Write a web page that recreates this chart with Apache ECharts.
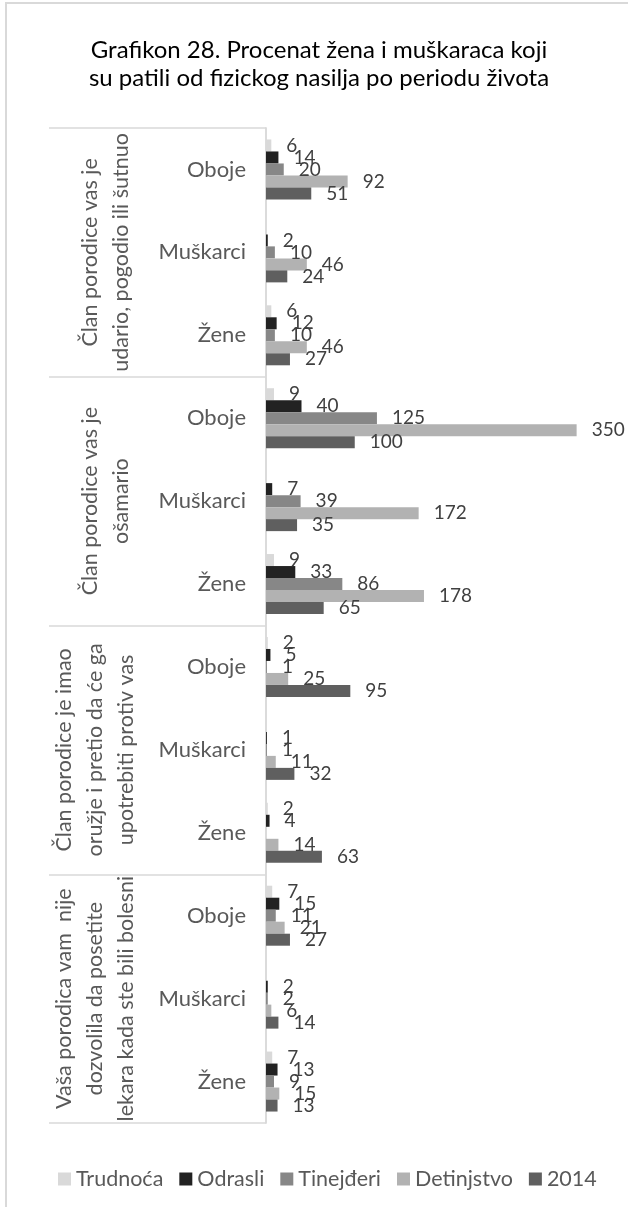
<!DOCTYPE html>
<html>
<head>
<meta charset="utf-8">
<script src="https://cdn.jsdelivr.net/npm/echarts@6/dist/echarts.min.js"></script>
<style>
  html, body { margin: 0; padding: 0; background: #fff; }
  #chart { width: 628px; height: 1207px; }
</style>
</head>
<body>
<div id="chart"></div>
<script>
// Question groups (outer level of the category axis)
const groups = [
  'Član porodice vas je\nudario, pogodio ili šutnuo',
  'Član porodice vas je\nošamario',
  'Član porodice je imao\noružje i pretio da će ga\nupotrebiti protiv vas',
  'Vaša porodica vam  nije\ndozvolila da posetite\nlekara kada ste bili bolesni'
];
// Respondent subgroups (inner level)
const subgroups = ['Oboje', 'Muškarci', 'Žene'];
// Period of life
const seriesNames = ['Trudnoća', 'Odrasli', 'Tinejđeri', 'Detinjstvo', '2014'];

// Values per category, in order: group 1 (Oboje, Muškarci, Žene), group 2, ...
const trudnoca   = [6, null, 6,    9, null, 9,     2, null, 2,    7, null, 7];
const odrasli    = [14, 2, 12,     40, 7, 33,      5, 1, 4,       15, 2, 13];
const tinejderi  = [20, 10, 10,    125, 39, 86,    1, 1, null,    11, 2, 9];
const detinjstvo = [92, 46, 46,    350, 172, 178,  25, 11, 14,    21, 6, 15];
const god2014    = [51, 24, 27,    100, 35, 65,    95, 32, 63,    27, 14, 13];

const seriesValues = [trudnoca, odrasli, tinejderi, detinjstvo, god2014];
const seriesColors = ['#D9D9D9', '#222222', '#878787', '#B2B2B2', '#5F5F5F'];

const FONT = 'Lato';
const frameColor = '#D9D9D9';

// inner-level categories, one per (group, subgroup) pair
const categories = [];
groups.forEach((g, gi) => subgroups.forEach(s => categories.push(gi + '|' + s)));

// outer-level labels; two-line labels sit a little further left
const groupAxisData = groups.map(g => {
  const lines = g.split('\n').length;
  return { value: g, textStyle: { padding: lines === 2 ? [0, 0, 5, 0] : [0, 0, 0, 0] } };
});

const chart = echarts.init(document.getElementById('chart'), null, { renderer: 'canvas' });

chart.setOption({
  backgroundColor: '#fff',
  animation: false,
  textStyle: { fontFamily: FONT },
  title: {
    text: 'Grafikon 28. Procenat žena i muškaraca koji\nsu patili od fizickog nasilja po periodu života',
    left: 314,
    top: 31,
    textAlign: 'center',
    textStyle: { fontFamily: FONT, fontSize: 24, fontWeight: 'normal', color: '#000', lineHeight: 28 }
  },
  graphic: [{
    type: 'rect',
    silent: true,
    shape: { x: 6, y: 3, width: 700, height: 1300 },
    style: { fill: 'none', stroke: frameColor, lineWidth: 2 }
  }],
  legend: {
    left: 53,
    top: 1163,
    itemWidth: 13,
    itemHeight: 13,
    itemGap: 16,
    icon: 'rect',
    textStyle: { fontFamily: FONT, fontSize: 21.5, color: '#595959' },
    data: seriesNames
  },
  grid: {
    left: 266,
    right: 7,
    top: 128,
    bottom: 84,
    containLabel: false,
    outerBoundsMode: 'none'
  },
  xAxis: {
    type: 'value',
    min: 0,
    max: 400,
    show: false,
    splitLine: { show: false }
  },
  yAxis: [{
    type: 'category',
    data: categories,
    inverse: true,
    position: 'left',
    axisLine: { show: true, lineStyle: { color: frameColor, width: 1.5 } },
    axisTick: { show: false },
    axisLabel: {
      interval: 0,
      margin: 20,
      fontFamily: FONT,
      fontSize: 22,
      color: '#595959',
      formatter: v => v.split('|')[1]
    }
  }, {
    type: 'category',
    data: groupAxisData,
    inverse: true,
    position: 'left',
    offset: 0,
    axisLine: { show: true, lineStyle: { color: frameColor, width: 1.5 } },
    axisTick: { show: true, length: 217, lineStyle: { color: frameColor, width: 1.5 } },
    axisLabel: {
      interval: 0,
      rotate: 90,
      margin: 124,
      align: 'center',
      verticalAlign: 'bottom',
      lineHeight: 31,
      fontFamily: FONT,
      fontSize: 21.5,
      color: '#595959'
    }
  }],
  series: seriesNames.map((name, i) => ({
    name,
    type: 'bar',
    xAxisIndex: 0,
    yAxisIndex: 0,
    data: seriesValues[i],
    barWidth: 12,
    barGap: '0%',
    itemStyle: { color: seriesColors[i] },
    label: {
      show: true,
      position: 'right',
      distance: 15,
      fontFamily: FONT,
      fontSize: 19,
      color: '#404040'
    }
  }))
});
</script>
</body>
</html>
